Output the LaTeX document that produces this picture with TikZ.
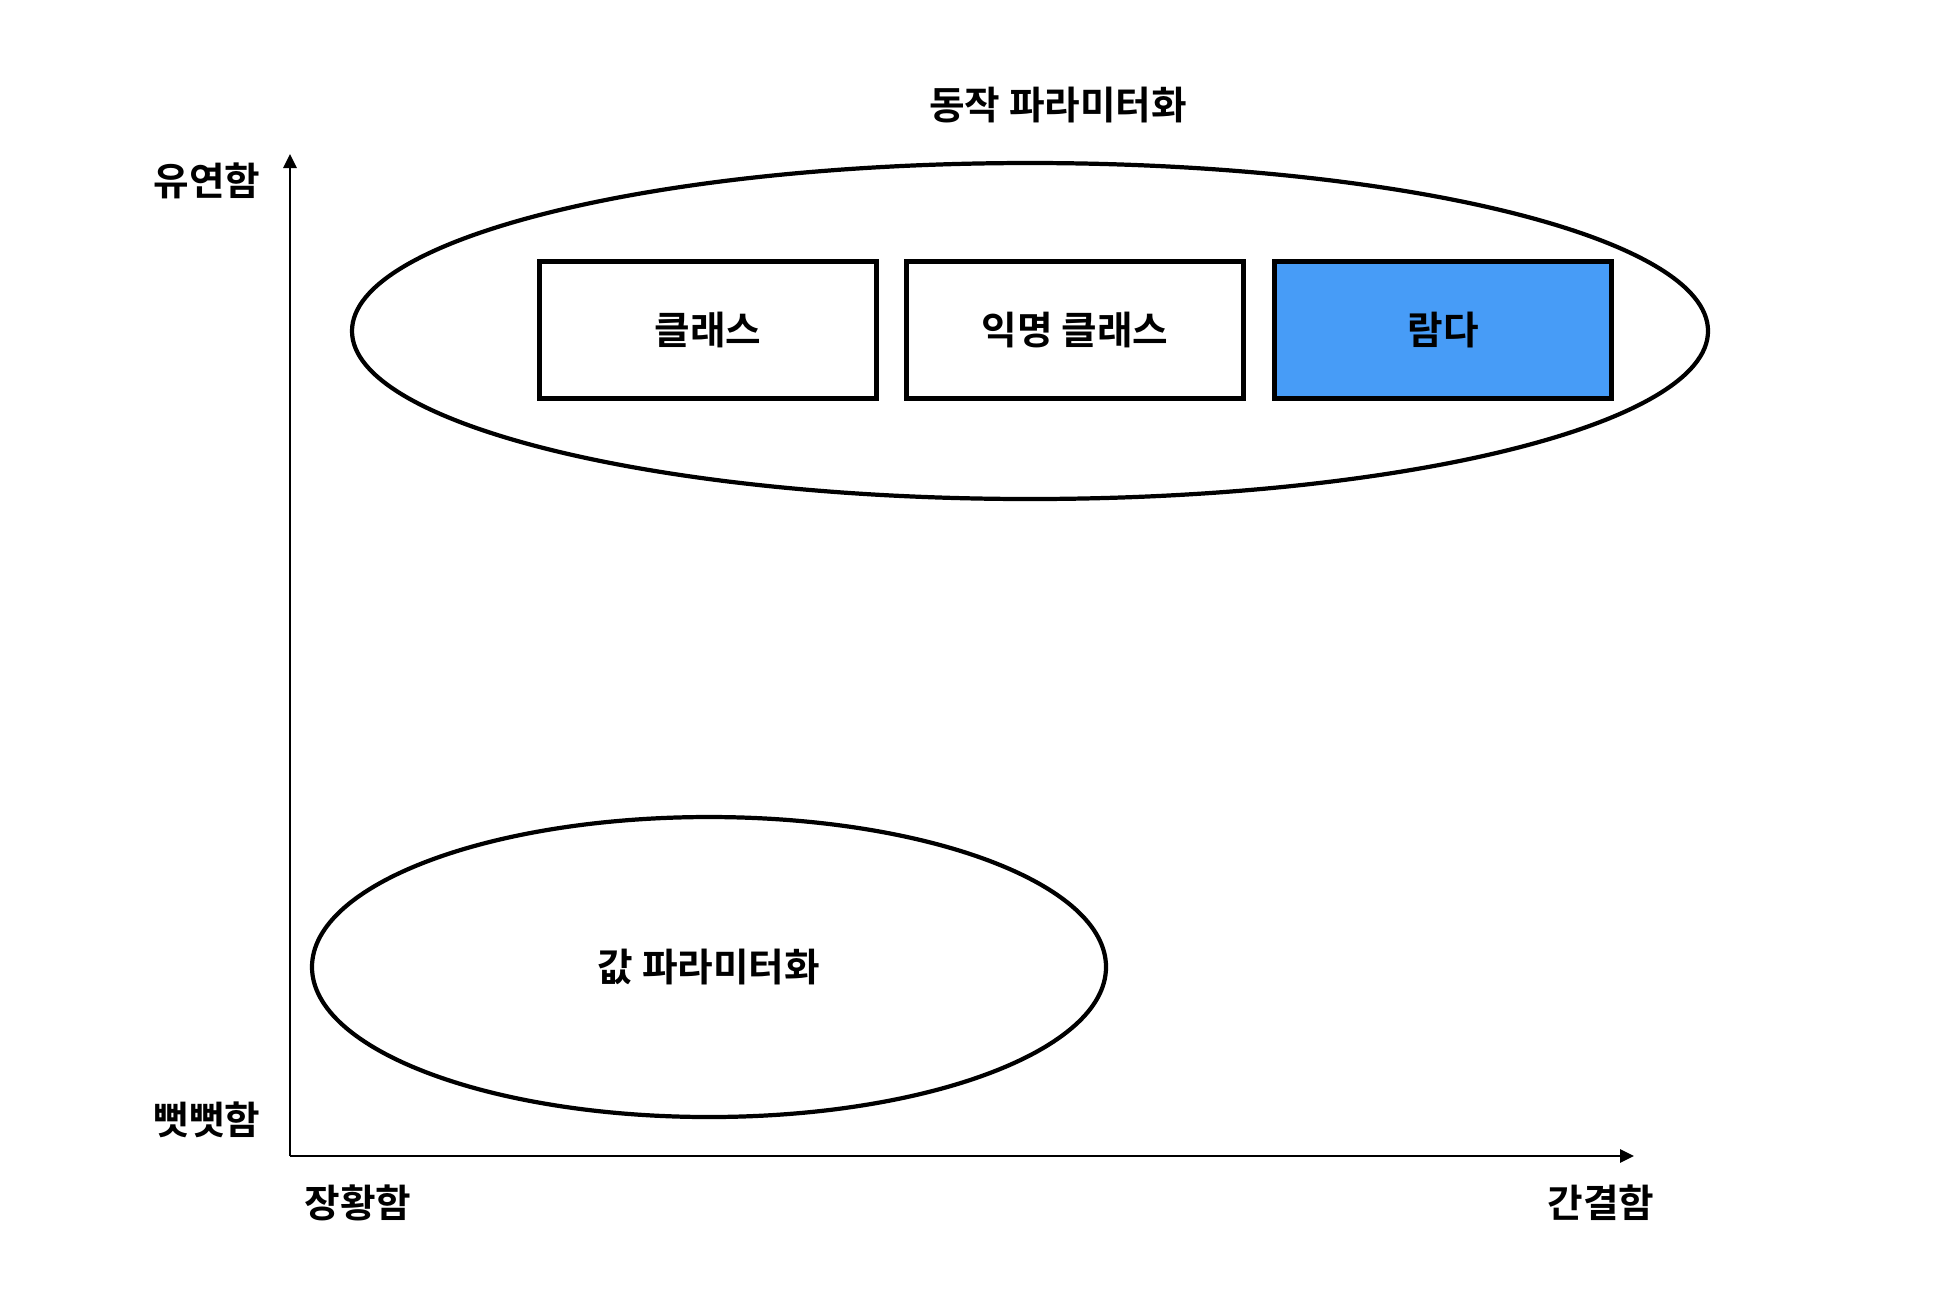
\documentclass[tikz,border=0pt]{standalone}
\usepackage{fontspec}
\usepackage{tikz}
\usetikzlibrary{arrows.meta,positioning,calc}
\newfontfamily\krfont{Noto Sans CJK KR Bold}
\definecolor{lambdablue}{RGB}{71,156,247}

\begin{document}
\begin{tikzpicture}[x=0.01cm,y=-0.01cm,
  axis/.style={-{Triangle[length=1.4mm,width=1.3mm]},line width=0.8pt},
  way/.style={rectangle,draw,line width=1.3pt,minimum width=3.37cm,minimum height=1.37cm,font=\krfont\fontsize{11}{13}\selectfont},
  lab/.style={font=\krfont\fontsize{11}{13}\selectfont}
]
\useasboundingbox (0,0) rectangle (1934,1314);
% axes
\coordinate (o) at (290,1156);
\coordinate (ytop) at (290,154);
\coordinate (xend) at (1634,1156);
\draw[axis] (o) -- (ytop);
\draw[axis] (o) -- (xend);
\node[lab] (flex) at (207,181) {유연함};
\node[lab] (rigid) at (207,1120) {뻣뻣함};
\node[lab] (verbose) at (358,1203) {장황함};
\node[lab] (concise) at (1601,1203) {간결함};
% behaviour parameterisation
\node[lab] (title) at (1058,105) {동작 파라미터화};
\draw[line width=1.2pt] (1030,331) ellipse [x radius=678,y radius=168];
\node[way] (cls) at (708,330) {클래스};
\node[way] (anon) at (1075,330) {익명 클래스};
\node[way,fill=lambdablue] (lambda) at (1443,330) {람다};
% value parameterisation
\draw[line width=1.2pt] (709,967) ellipse [x radius=397,y radius=150];
\node[lab] (value) at (709,967) {값 파라미터화};
\end{tikzpicture}
\end{document}
